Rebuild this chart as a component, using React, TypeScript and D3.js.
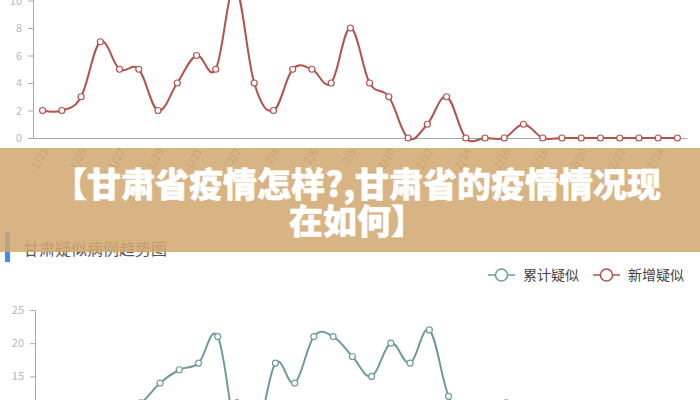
import React, { useEffect, useRef } from 'react'
import * as d3 from 'd3'

// categories (x axis)
const dates = ['1/23', '1/24', '1/25', '1/26', '1/27', '1/28', '1/29', '1/30', '1/31',
    '2/1', '2/2', '2/3', '2/4', '2/5', '2/6', '2/7', '2/8', '2/9', '2/10', '2/11', '2/12',
    '2/13', '2/14', '2/15', '2/16', '2/17', '2/18', '2/19', '2/20', '2/21', '2/22', '2/23', '2/24', '2/25']

// 新增疑似
const newSuspected = [2, 2, 3, 7, 5, 5, 2, 4, 6, 5, 11, 4, 2, 5, 5, 4, 8, 4, 3, 0,
    1, 3, 0, 0, 0, 1, 0, 0, 0, 0, 0, 0, 0, 0]

// 累计疑似
const totalSuspected = [4, 6, 7, 9, 10, 11, 14, 16, 17, 21, 6, 6, 17, 14, 21, 21, 18, 15, 20, 17,
    22, 12, 8, 9, 11, 7, 5, 4, 3, 2, 2, 1, 1, 0]

const topTicks = [0, 2, 4, 6, 8, 10, 12]
const bottomTicks = [0, 5, 10, 15, 20, 25]

const legendItems = [
    { name: '累计疑似', color: '#6d9ca0' },
    { name: '新增疑似', color: '#b5504b' },
]

const titleLines = ['【甘肃省疫情怎样?,甘肃省的疫情情况现', '在如何】']

export default function App() {
    const ref = useRef<SVGSVGElement | null>(null)
    const width = 700
    const height = 400
    const font = '"Noto Sans CJK SC", "Noto Sans", sans-serif'
    const red = '#b5504b'
    const teal = '#6d9ca0'

    function draw() {
        const svg = d3.select(ref.current)
        svg.selectAll('*').remove()
        svg.append('rect').attr('width', width).attr('height', height).attr('fill', '#fff')

        const curve = d3.curveCardinal.tension(-0.1)

        // ---------- top chart (新增疑似) ----------
        const xTop = d3.scaleBand().domain(dates).range([33, 687])
        const yTop = d3.scaleLinear().domain([0, 12]).range([138, -27])
        const cxTop = (d: string) => (xTop(d) as number) + xTop.bandwidth() / 2

        const gTop = svg.append('g')
        const yAxTop = gTop.append('g')
            .attr('transform', 'translate(33,0)')
            .call(d3.axisLeft(yTop).tickValues(topTicks).tickSize(5).tickPadding(6))
        yAxTop.select('.domain').attr('stroke', '#aaa')
        yAxTop.selectAll('line').attr('stroke', '#aaa')
        yAxTop.selectAll('text').attr('fill', '#b8b8b8').style('font-size', '11px').style('font-family', font)

        const xAxTop = gTop.append('g')
            .attr('transform', 'translate(0,138)')
            .call(d3.axisBottom(xTop).tickValues(dates.filter((_, i) => i % 2 === 0)).tickSize(0).tickSizeOuter(0))
        xAxTop.select('.domain').attr('stroke', '#aaa')
        xAxTop.selectAll('text')
            .attr('fill', '#888').style('font-size', '11px').style('font-family', font)
            .attr('y', 0).attr('dy', '0.35em')
            .attr('text-anchor', 'end')
            .attr('transform', 'translate(3,11) rotate(-60)')

        const lineTop = d3.line<number>()
            .x((_, i) => cxTop(dates[i]))
            .y(d => yTop(d))
            .curve(curve)
        gTop.append('path').datum(newSuspected)
            .attr('d', lineTop).attr('fill', 'none').attr('stroke', red).attr('stroke-width', 2)
        gTop.selectAll('circle.pt').data(newSuspected).enter().append('circle')
            .attr('class', 'pt')
            .attr('cx', (_, i) => cxTop(dates[i]))
            .attr('cy', d => yTop(d))
            .attr('r', 3)
            .attr('fill', '#fff').attr('stroke', red).attr('stroke-width', 1.2)

        // ---------- bottom chart (疑似病例趋势) ----------
        const gBot = svg.append('g')
        gBot.append('rect').attr('x', 5).attr('y', 232).attr('width', 5).attr('height', 30).attr('fill', '#3d8ef0')
        gBot.append('text').attr('x', 23).attr('y', 255)
            .text('甘肃疑似病例趋势图')
            .style('font-family', font).style('font-size', '16px').attr('fill', '#555')

        // legend
        const leg = gBot.selectAll('g.leg').data(legendItems).enter().append('g')
            .attr('class', 'leg')
            .attr('transform', (_, i) => `translate(${488 + i * 105},275)`)
        leg.append('line').attr('x1', 0).attr('x2', 27).attr('y1', 0).attr('y2', 0)
            .attr('stroke', d => d.color).attr('stroke-width', 1.5)
        leg.append('circle').attr('cx', 13.5).attr('cy', 0).attr('r', 6)
            .attr('fill', '#fff').attr('stroke', d => d.color).attr('stroke-width', 1.5)
        leg.append('text').attr('x', 35).attr('y', 0).attr('dy', '0.35em')
            .text(d => d.name)
            .style('font-family', font).style('font-size', '14px').attr('fill', '#444')

        const xBot = d3.scaleBand().domain(dates).range([35, 689])
        const yBot = d3.scaleLinear().domain([0, 25]).range([476, 310])
        const cxBot = (d: string) => (xBot(d) as number) + xBot.bandwidth() / 2

        const yAxBot = gBot.append('g')
            .attr('transform', 'translate(35,0)')
            .call(d3.axisLeft(yBot).tickValues(bottomTicks).tickSize(5).tickPadding(6))
        yAxBot.select('.domain').attr('stroke', '#aaa')
        yAxBot.selectAll('line').attr('stroke', '#aaa')
        yAxBot.selectAll('text').attr('fill', '#b8b8b8').style('font-size', '11px').style('font-family', font)

        const series = [
            { values: totalSuspected, color: teal },
            { values: newSuspected, color: red },
        ]
        series.forEach(s => {
            const ln = d3.line<number>()
                .x((_, i) => cxBot(dates[i]))
                .y(d => yBot(d))
                .curve(curve)
            gBot.append('path').datum(s.values)
                .attr('d', ln).attr('fill', 'none').attr('stroke', s.color).attr('stroke-width', 2)
            gBot.append('g').selectAll('circle').data(s.values).enter().append('circle')
                .attr('cx', (_, i) => cxBot(dates[i]))
                .attr('cy', d => yBot(d))
                .attr('r', 3)
                .attr('fill', '#fff').attr('stroke', s.color).attr('stroke-width', 1.2)
        })

        // ---------- banner ----------
        svg.append('rect')
            .attr('x', 0).attr('y', 148).attr('width', width).attr('height', 104)
            .attr('fill', '#d2a870').attr('opacity', 0.86)
        svg.selectAll('text.title').data(titleLines).enter().append('text')
            .attr('class', 'title')
            .attr('x', 357)
            .attr('y', (_, i) => 197 + i * 37)
            .attr('text-anchor', 'middle')
            .text(d => d)
            .style('font-family', font).style('font-size', '34px').style('font-weight', 900)
            .attr('fill', '#fff').attr('stroke', '#fff').attr('stroke-width', 0.5)
            .attr('stroke-linejoin', 'round')
    }

    useEffect(() => {
        draw()
    }, [])

    return (
        <div style={{ position: 'fixed', left: 0, top: 0 }}>
            <svg ref={ref} width={width} height={height} style={{ display: 'block' }} />
        </div>
    )
}
